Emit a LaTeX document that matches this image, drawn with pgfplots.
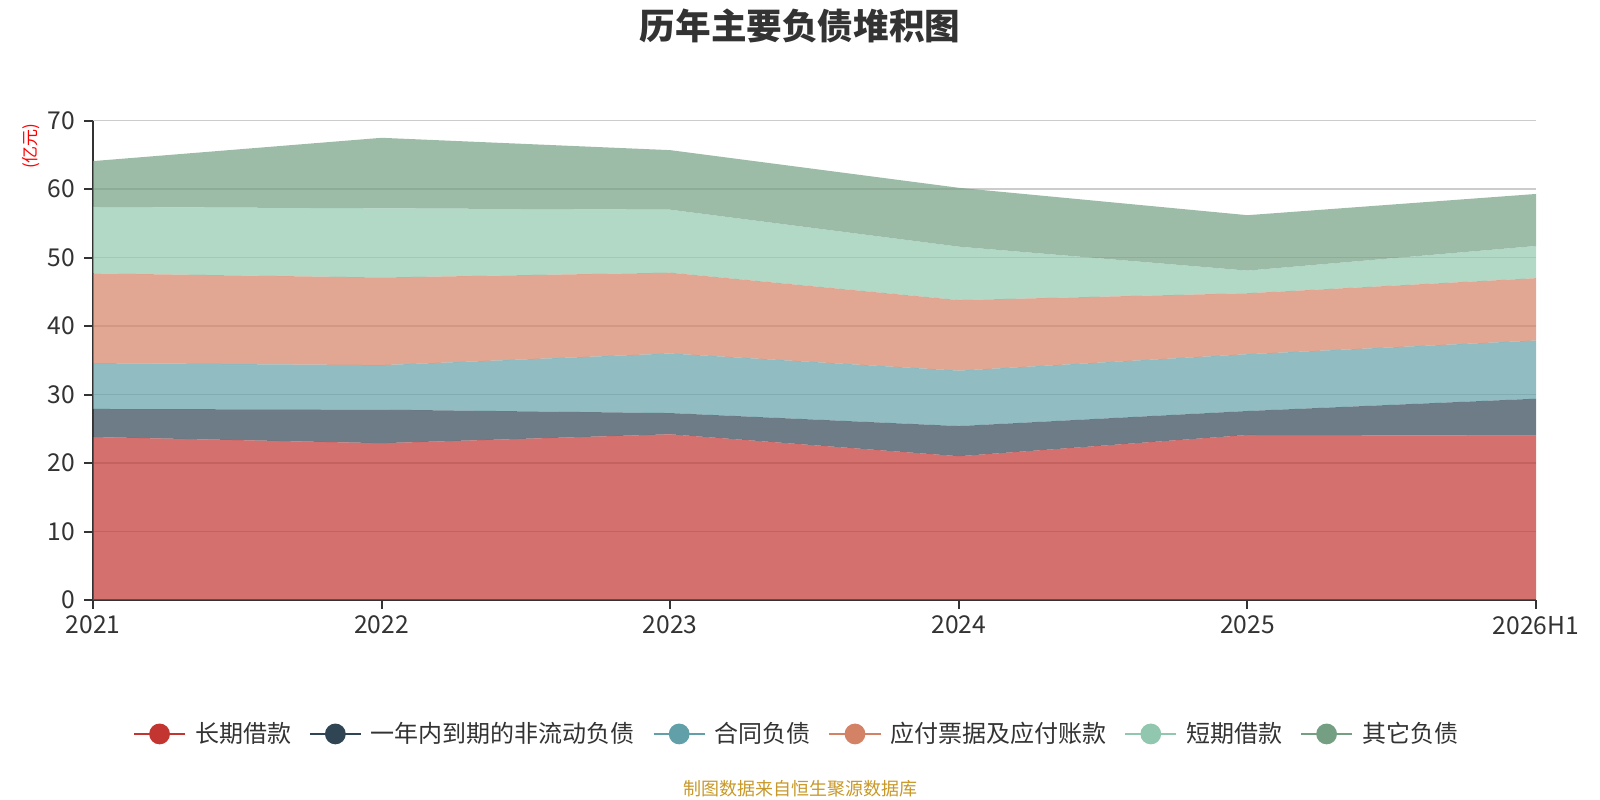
\documentclass[border=0pt]{standalone}
\usepackage{pgfplots}
\pgfplotsset{compat=1.18}
\usepackage{fontspec}
\setmainfont{Noto Sans CJK SC}
\definecolor{c1}{HTML}{C23531}
\definecolor{c2}{HTML}{2F4554}
\definecolor{c3}{HTML}{61A0A8}
\definecolor{c4}{HTML}{D48265}
\definecolor{c5}{HTML}{91C7AE}
\definecolor{c6}{HTML}{749F83}
\definecolor{txt}{HTML}{333333}
\definecolor{gridc}{HTML}{CCCCCC}
\definecolor{foot}{HTML}{C89828}
\newcommand{\legimg}[1]{\draw[line width=1bp,#1,draw opacity=1] (0bp,0bp) -- (25.5bp,0bp); \fill[#1,fill opacity=1] (12.75bp,0bp) circle (5.2bp);}
\begin{document}
\begin{tikzpicture}[x=0.5bp,y=0.5bp]
\path[use as bounding box] (0,0) rectangle (1600,800);
\begin{axis}[
  at={(46.5bp,100bp)}, anchor=south west,
  scale only axis, width=721.5bp, height=239.65bp,
  xmin=0, xmax=5, ymin=0, ymax=70,
  enlargelimits=false,
  stack plots=y,
  axis lines=left,
  axis line style={-, draw=txt, line width=1bp},
  xtick={0,1,2,3,4,5},
  xticklabels={2021,2022,2023,2024,2025,2026H1},
  ytick={0,10,20,30,40,50,60,70},
  ymajorgrids,
  grid style={draw=gridc, line width=0.75bp},
  tick align=outside,
  major tick length=4.5bp,
  tick style={draw=txt, line width=1bp},
  /pgf/number format/assume math mode=true,
  tick label style={font=\fontsize{12.3bp}{14bp}\selectfont, text=txt},
  yticklabel style={xshift=-1bp},
  xticklabel style={yshift=0bp},
  ylabel={(亿元)},
  ylabel style={at={(axis description cs:-0.043,0.947)}, anchor=center, font=\fontsize{8.5bp}{10bp}\selectfont, text=red},
  legend columns=6,
  legend style={at={(0.49,-0.2795)}, anchor=center, draw=none, fill=none,
    font=\fontsize{12bp}{14bp}\selectfont, text=txt,
    column sep=0pt, nodes={inner xsep=4.5bp, inner ysep=0pt},
    /tikz/every even column/.append style={column sep=4.4bp}},
]
\addplot[fill=c1, fill opacity=0.7, draw=none, legend image code/.code={\legimg{c1}}] coordinates {(0,23.8) (1,22.9) (2,24.2) (3,21.0) (4,24.1) (5,24.0)} \closedcycle;
\addlegendentry{长期借款}
\addplot[fill=c2, fill opacity=0.7, draw=none, legend image code/.code={\legimg{c2}}] coordinates {(0,4.1) (1,4.9) (2,3.1) (3,4.4) (4,3.5) (5,5.4)} \closedcycle;
\addlegendentry{一年内到期的非流动负债}
\addplot[fill=c3, fill opacity=0.7, draw=none, legend image code/.code={\legimg{c3}}] coordinates {(0,6.7) (1,6.5) (2,8.7) (3,8.1) (4,8.3) (5,8.5)} \closedcycle;
\addlegendentry{合同负债}
\addplot[fill=c4, fill opacity=0.7, draw=none, legend image code/.code={\legimg{c4}}] coordinates {(0,13.1) (1,12.8) (2,11.8) (3,10.3) (4,8.9) (5,9.1)} \closedcycle;
\addlegendentry{应付票据及应付账款}
\addplot[fill=c5, fill opacity=0.7, draw=none, legend image code/.code={\legimg{c5}}] coordinates {(0,9.7) (1,10.1) (2,9.2) (3,7.8) (4,3.3) (5,4.7)} \closedcycle;
\addlegendentry{短期借款}
\addplot[fill=c6, fill opacity=0.7, draw=none, legend image code/.code={\legimg{c6}}] coordinates {(0,6.7) (1,10.3) (2,8.7) (3,8.6) (4,8.1) (5,7.6)} \closedcycle;
\addlegendentry{其它负债}
\end{axis}
\node[font=\fontsize{17.8bp}{20bp}\selectfont\bfseries, text=txt, anchor=center] at (800,774.5) {历年主要负债堆积图};
\node[font=\fontsize{9bp}{11bp}\selectfont, text=foot, anchor=center] at (800,11) {制图数据来自恒生聚源数据库};
\end{tikzpicture}
\end{document}
